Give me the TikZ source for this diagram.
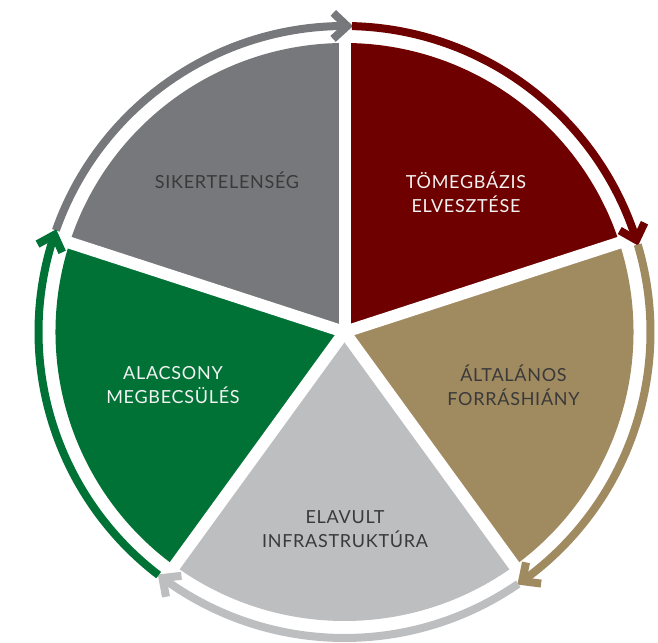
\documentclass[tikz,border=0pt]{standalone}
\usepackage{fontspec}
\setmainfont{Lato}[LetterSpace=4]
\definecolor{cgray}{HTML}{77787B}
\definecolor{cred}{HTML}{6E0000}
\definecolor{cbrown}{HTML}{A08A60}
\definecolor{clgray}{HTML}{BCBEC0}
\definecolor{cgreen}{HTML}{007236}
\definecolor{cdark}{HTML}{3A3A3A}
\definecolor{clight}{HTML}{F2F2F2}
\begin{document}
\begin{tikzpicture}[x=1pt,y=1pt,
  ring/.style={line width=8pt},
  chev/.style={line width=8pt, line join=miter},
  gapline/.style={white, line width=12pt},
  lbl/.style={align=center, inner sep=0pt, font=\fontsize{18}{24}\selectfont}]
\useasboundingbox (-344.5,-310) rectangle (313.5,332);
% sectors
\foreach \s/\c in {162/cgray, 90/cred, 18/cbrown, -54/clgray, -126/cgreen}{
  \fill[\c] (0,0) -- (\s:289) arc[start angle=\s, end angle=\s-72, radius=289] -- cycle;
}
% white gaps
\foreach \b in {162,90,18,-54,-126}{
  \draw[gapline] (0,0) -- (\b:296);
}
% arrows
\foreach \s/\c in {162/cgray, 90/cred, 18/cbrown, -54/clgray, -126/cgreen}{
  \draw[\c, ring] (\s-1.4:306) arc[start angle=\s-1.4, end angle=\s-72.5, radius=306];
  \begin{scope}[shift={(\s-72.5:306)}, rotate=\s-162.5]
    \draw[\c, chev] (-14,13) -- (0,0) -- (-14,-13);
  \end{scope}
}
% labels
\node[lbl, text=cdark] (sik) at (-117.5,152) {SIKERTELENSÉG};
\node[lbl, text=clight] (tom) at (121.5,140) {TÖMEGBÁZIS\\ELVESZTÉSE};
\node[lbl, text=cdark] (alt) at (169,-53.5) {ÁLTALÁNOS\\FORRÁSHIÁNY};
\node[lbl, text=cdark] (ela) at (0.5,-197) {ELAVULT\\INFRASTRUKTÚRA};
\node[lbl, text=clight] (ala) at (-171.5,-53.5) {ALACSONY\\MEGBECSÜLÉS};
\end{tikzpicture}
\end{document}
